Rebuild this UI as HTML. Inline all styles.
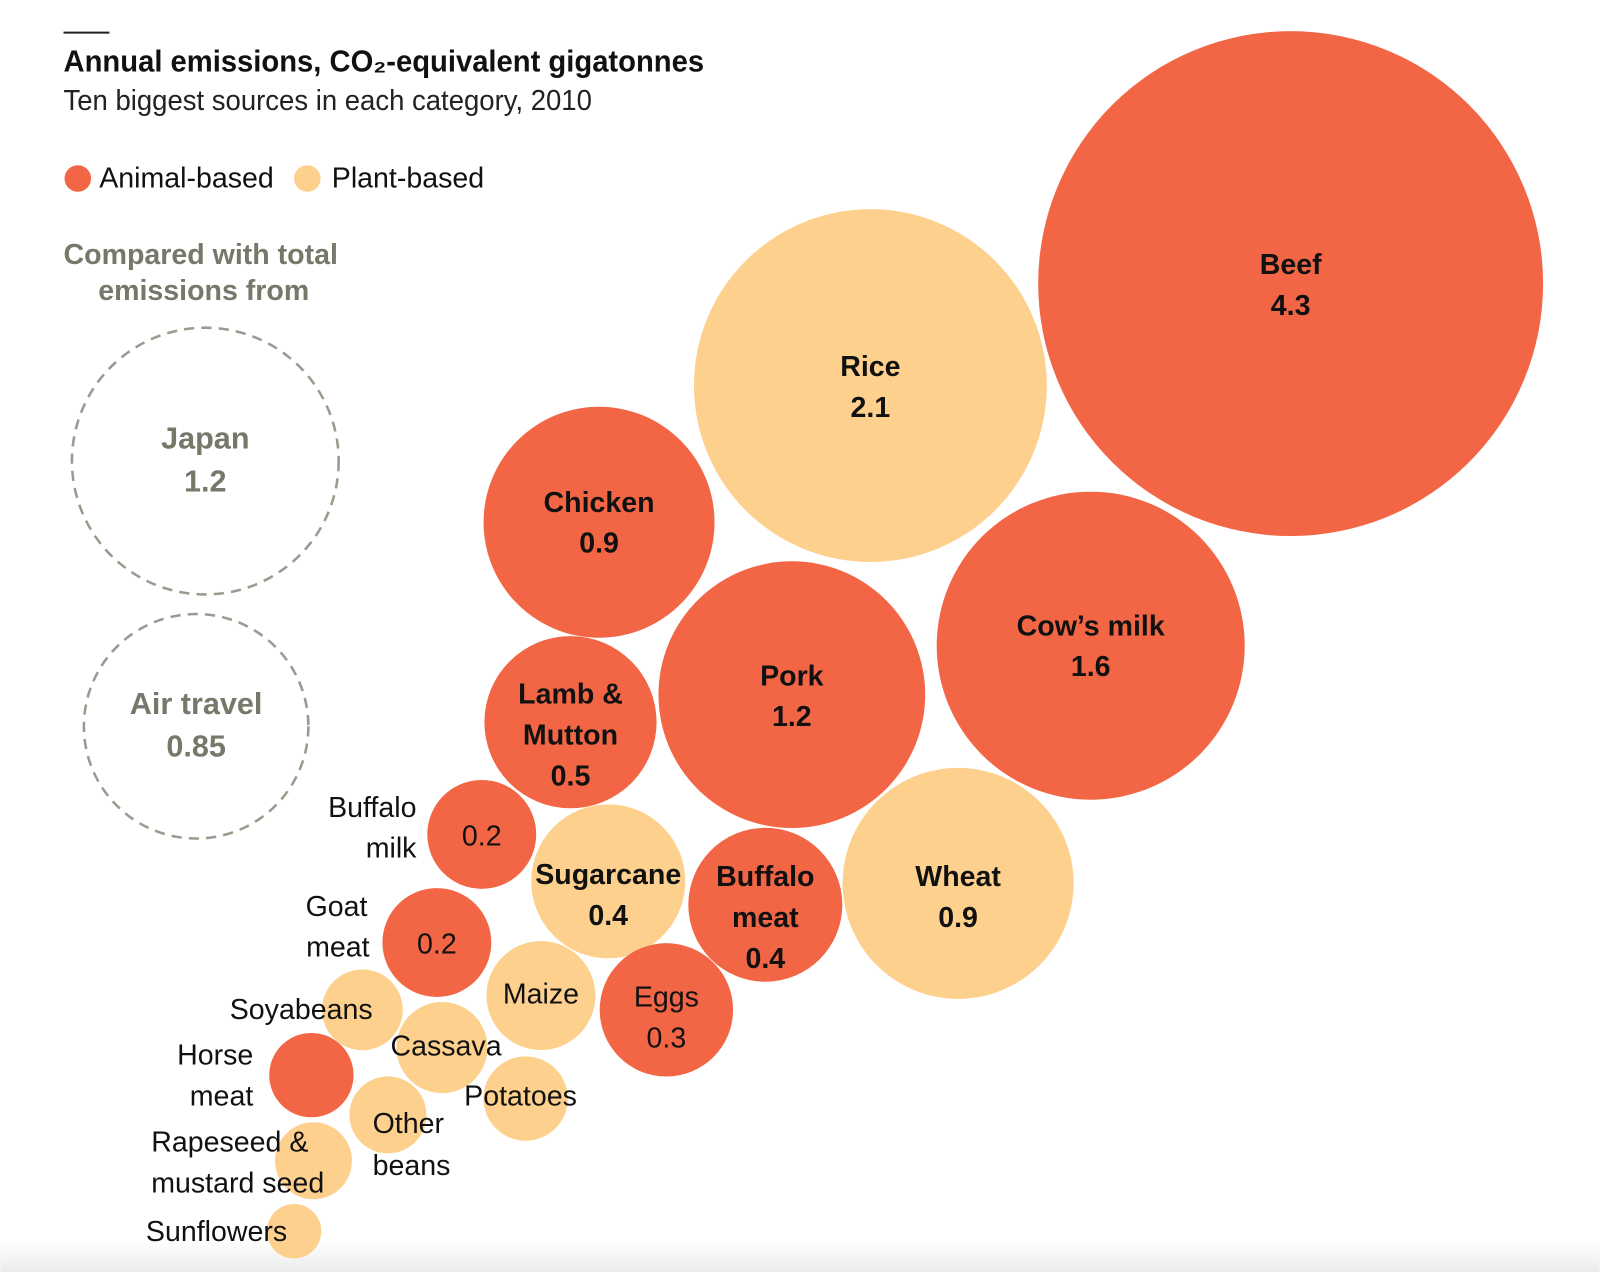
<!DOCTYPE html>
<html><head><meta charset="utf-8">
<style>
html,body{margin:0;padding:0;background:#fff;width:1600px;height:1272px;overflow:hidden}
svg{display:block}
text{font-family:"Liberation Sans Narrow","Liberation Sans",sans-serif}
</style></head>
<body>
<svg id="chart" width="1600" height="1272" viewBox="0 0 1568 1247" xmlns="http://www.w3.org/2000/svg">
<defs><linearGradient id="fade" x1="0" y1="0" x2="0" y2="1"><stop offset="0" stop-color="#fff"/><stop offset="1" stop-color="#ececec"/></linearGradient></defs>
<rect x="0" y="1215" width="1568" height="32" fill="url(#fade)"/>
<line x1="62" y1="32" x2="107" y2="32" stroke="#222" stroke-width="2"/>
<text x="62" y="70" font-size="30" font-weight="bold" fill="#111" textLength="628" lengthAdjust="spacingAndGlyphs">Annual emissions, CO₂-equivalent gigatonnes</text>
<text x="62" y="108" font-size="28" fill="#222" textLength="518" lengthAdjust="spacingAndGlyphs">Ten biggest sources in each category, 2010</text>
<g>
<circle cx="76" cy="175" r="13" fill="#F26645"/>
<text x="97" y="184" font-size="28" fill="#111">Animal-based</text>
<circle cx="301" cy="175" r="13" fill="#FDD18D"/>
<text x="325" y="184" font-size="28" fill="#111">Plant-based</text>
</g>
<text x="62" y="259" font-size="28" font-weight="bold" fill="#77776A">Compared with total</text>
<text x="96" y="294" font-size="28" font-weight="bold" fill="#77776A">emissions from</text>
<g id="bubbles"></g>
<g id="labels"></g>
</svg>
<script>
const names=["Beef","Rice","Cow's milk","Chicken","Pork","Wheat","Lamb & Mutton","Buffalo meat","Sugarcane","Eggs","Buffalo milk","Goat meat","Maize","Cassava","Potatoes","Horse meat","Soyabeans","Other beans","Rapeseed & mustard seed","Sunflowers"];
const values=[4.3,2.1,1.6,0.9,1.2,0.9,0.5,0.4,0.4,0.3,0.2,0.2,0.2,0.14,0.12,0.12,0.11,0.1,0.1,0.05];
const types=["animal","plant","animal","animal","animal","plant","animal","animal","plant","animal","animal","animal","plant","plant","plant","animal","plant","plant","plant","plant"];
const printed=["4.3","2.1","1.6","0.9","1.2","0.9","0.5","0.4","0.4","0.3","0.2","0.2","","","","","","","",""];
const refNames=["Japan","Air travel"];
const refValues=[1.2,0.85];
const refPrinted=["1.2","0.85"];
// packing layout (centres only)
const layoutX=[1265,853,1069,587,776,939,559,750,596,653,472,428,530,433,515,305,355,380,307,288];
const layoutY=[278,378,633,512,681,866,708,887,864,990,818,924,976,1027,1077,1054,990,1093,1138,1207];
const refX=[201,192], refY=[452,712];
const K=247.5/Math.sqrt(4.3);
function rScale(v){return K*Math.sqrt(v);}
const NS="http://www.w3.org/2000/svg";
const colors={animal:"#F26645",plant:"#FDD18D"};
const gb=document.getElementById('bubbles'), gl=document.getElementById('labels');
function txt(parent,x,y,s,opt){
  const t=document.createElementNS(NS,'text');
  t.setAttribute('x',x);t.setAttribute('y',y);
  t.setAttribute('font-size',opt.size||28);
  t.setAttribute('text-anchor',opt.anchor||'middle');
  t.setAttribute('dominant-baseline','central');
  t.setAttribute('fill',opt.fill||'#111');
  if(opt.bold)t.setAttribute('font-weight','bold');
  t.textContent=s;
  
  
  parent.appendChild(t);
}
for(let i=0;i<refNames.length;i++){
  const c=document.createElementNS(NS,'circle');
  c.setAttribute('cx',refX[i]);c.setAttribute('cy',refY[i]);c.setAttribute('r',rScale(refValues[i]));
  c.setAttribute('fill','none');c.setAttribute('stroke','#9a9a8e');c.setAttribute('stroke-width','2.5');c.setAttribute('stroke-dasharray','10 7');
  
  
  gb.appendChild(c);
  txt(gl,refX[i],refY[i]-22,refNames[i],{bold:true,fill:'#77776A',size:30,name:'reference-label'});
  txt(gl,refX[i],refY[i]+20,refPrinted[i],{bold:true,fill:'#77776A',size:30,name:'reference-value'});
}
for(let i=0;i<names.length;i++){
  const c=document.createElementNS(NS,'circle');
  c.setAttribute('cx',layoutX[i]);c.setAttribute('cy',layoutY[i]);c.setAttribute('r',rScale(values[i]));
  c.setAttribute('fill',colors[types[i]]);
  
  
  gb.appendChild(c);
}
// inside labels
const inside={0:["Beef"],1:["Rice"],2:["Cow’s milk"],3:["Chicken"],4:["Pork"],5:["Wheat"],6:["Lamb &","Mutton"],7:["Buffalo","meat"],8:["Sugarcane"],9:["Eggs"]};
const labelShift={0:2,1:2,2:1,3:1,4:2,5:14,6:13,7:13,8:14,9:8};
for(const k in inside){
  const i=+k, lines=inside[k].concat([printed[i]]);
  const bold=i!==9;
  const n=lines.length;
  lines.forEach((s,j)=>txt(gl,layoutX[i],layoutY[i]+labelShift[i]+(j-(n-1)/2)*40,s,{bold:bold,name:'bubble-label'}));
}
txt(gl,472,820,printed[10],{name:'bubble-value'});
txt(gl,428,926,printed[11],{name:'bubble-value'});
txt(gl,530,975,"Maize",{name:'bubble-label'});
// outside labels
const outs=[["Buffalo",408,792,"end"],["milk",408,832,"end"],["Goat",360,889,"end"],["meat",362,929,"end"],["Soyabeans",295,990,"middle"],["Cassava",437,1026,"middle"],["Potatoes",510,1075,"middle"],["Horse",248,1035,"end"],["meat",248,1075,"end"],["Other",365,1102,"start"],["beans",365,1143,"start"],["Rapeseed &",148,1120,"start"],["mustard seed",148,1160,"start"],["Sunflowers",212,1208,"middle"]];
outs.forEach(o=>txt(gl,o[1],o[2],o[0],{anchor:o[3],name:'bubble-label'}));
</script>
</body></html>
